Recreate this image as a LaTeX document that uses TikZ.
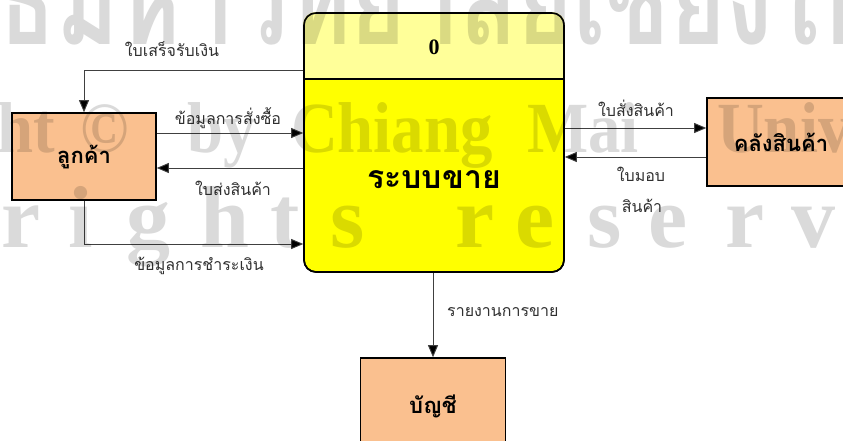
\documentclass[tikz,border=0pt]{standalone}
\usepackage{fontspec}
\setmainfont{Liberation Serif}
\newfontfamily\thaifont[Script=Thai]{Loma}
\usetikzlibrary{arrows.meta}
\definecolor{peach}{HTML}{FAC08F}
\definecolor{paleyellow}{HTML}{FFFF99}
\definecolor{brightyellow}{HTML}{FFFF00}
\definecolor{wmgray}{HTML}{DADADA}
\definecolor{linegray}{HTML}{404040}
\definecolor{labelgray}{HTML}{303030}
\tikzset{
  entity/.style={draw=black, line width=1.6pt, fill=peach, inner sep=0pt},
  entitytext/.style={font=\thaifont\bfseries\fontsize{22}{26}\selectfont, inner sep=0pt},
  procbox/.style={draw=black, line width=1.6pt, rounded corners=12pt, fill=brightyellow, inner sep=0pt},
  flow/.style={draw=linegray, line width=0.9pt, -{Triangle[length=12pt,width=10pt,fill=black]}},
  flowlabel/.style={font=\thaifont\fontsize{16}{19}\selectfont, text=labelgray, inner sep=0pt},
  wmlatin/.style={font=\bfseries\fontsize{72}{72}\selectfont, text=wmgray, inner sep=0pt, anchor=base, xscale=0.9},
  wmletter/.style={font=\bfseries\fontsize{88}{88}\selectfont, text=wmgray, inner sep=0pt, anchor=base},
  wmthai/.style={font=\thaifont\bfseries\fontsize{95}{95}\selectfont, text=wmgray, inner sep=0pt, anchor=base west, yscale=1.3}
}
\begin{document}
\begin{tikzpicture}[x=1pt,y=-1pt]
\useasboundingbox (0,0) rectangle (843,441);
\fill[white] (0,0) rectangle (843,441);
\clip (0,0) rectangle (843,441);

% process
\node[procbox, minimum width=260pt, minimum height=259pt] (proc) at (434,142.5) {};
\begin{scope}
  \clip[rounded corners=12pt] (proc.north west) rectangle (proc.south east);
  \fill[paleyellow] (proc.north west) rectangle (proc.east |- 0,79);
\end{scope}
\draw[line width=1.2pt] (proc.west |- 0,79) -- (proc.east |- 0,79);
\draw[line width=1.6pt, rounded corners=12pt] ([shift={(0.8pt,-0.8pt)}]proc.north west) rectangle ([shift={(-0.8pt,0.8pt)}]proc.south east);
\node[font=\bfseries\fontsize{22}{24}\selectfont, inner sep=0pt] (pnum) at (434,47) {0};
\node[font=\thaifont\bfseries\fontsize{32}{36}\selectfont, inner sep=0pt] (pname) at (434,180) {ระบบขาย};

% entities
\node[entity, minimum width=144pt, minimum height=87pt] (cust) at (84,156.5) {};
\node[entitytext] (custt) at (84,157) {ลูกค้า};
\node[entity, minimum width=148pt, minimum height=88pt] (wh) at (781,142) {};
\node[entitytext] (wht) at (781,142) {คลังสินค้า};
\node[entity, minimum width=145pt, minimum height=92pt] (acc) at (433,404) {};
\node[entitytext] (acct) at (433,406) {บัญชี};

% flows
\draw[flow] (proc.west |- 0,70) -| (cust.north);
\draw[flow] (cust.east |- 0,133) -- (proc.west |- 0,133);
\draw[flow] (proc.west |- 0,168) -- (cust.east |- 0,168);
\draw[flow] (cust.south) |- (proc.west |- 0,244);
\draw[flow] (proc.east |- 0,128) -- (wh.west |- 0,128);
\draw[flow] (wh.west |- 0,157) -- (proc.east |- 0,157);
\draw[flow] (proc.south -| acc.north) -- (acc.north);

% labels
\node[flowlabel] (l1) at (172,49) {ใบเสร็จรับเงิน};
\node[flowlabel] (l2) at (228,118) {ข้อมูลการสั่งซื้อ};
\node[flowlabel] (l3) at (233,188) {ใบส่งสินค้า};
\node[flowlabel] (l4) at (199,266) {ข้อมูลการชำระเงิน};
\node[flowlabel] (l5) at (636,108) {ใบสั่งสินค้า};
\node[flowlabel] (l6) at (641,174) {ใบมอบ};
\node[flowlabel] (l7) at (642,206) {สินค้า};
\node[flowlabel, anchor=west] (l8) at (447,312) {รายงานการขาย};

% watermark
\begin{scope}[blend mode=multiply]
\node[wmthai] (wm1) at (-2,45) {ธิ์มหาวิทยาลัยเชียงใหม่};
\node[wmlatin] (wa) at (26,153) {ht};
\node[wmlatin] (wb) at (105,153) {©};
\node[wmlatin] (wc) at (222,153) {by};
\node[wmlatin] (wd) at (392,153) {Chiang};
\node[wmlatin] (we) at (583,153) {Mai};
\node[wmlatin, anchor=base west] (wf) at (717,153) {University};
\node[wmletter] (r1) at (21,247) {r};
\node[wmletter] (r2) at (81,247) {i};
\node[wmletter] (r3) at (148,247) {g};
\node[wmletter] (r4) at (225,247) {h};
\node[wmletter] (r5) at (285,247) {t};
\node[wmletter] (r6) at (348,247) {s};
\node[wmletter] (r7) at (475,247) {r};
\node[wmletter] (r8) at (535,247) {e};
\node[wmletter] (r9) at (605,247) {s};
\node[wmletter] (r10) at (668,247) {e};
\node[wmletter] (r11) at (745,247) {r};
\node[wmletter] (r12) at (813,247) {v};
\end{scope}
\end{tikzpicture}
\end{document}
